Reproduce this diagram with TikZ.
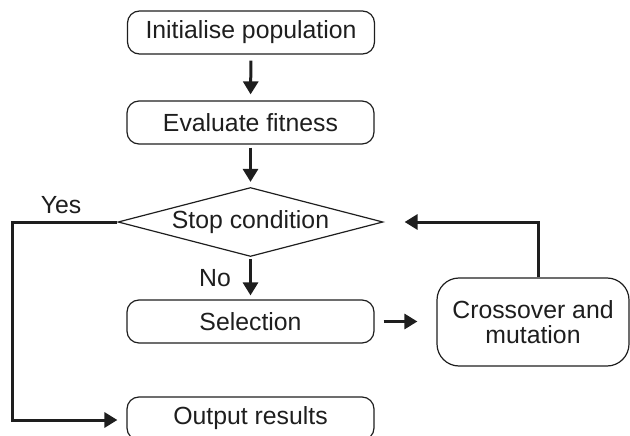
\documentclass[tikz,border=0pt]{standalone}
\usepackage{fontspec}
\setmainfont{Liberation Sans}
\usetikzlibrary{shapes.geometric,arrows.meta}
\definecolor{ink}{HTML}{1E1E1E}
\begin{document}
\begin{tikzpicture}[x=1pt,y=-1pt,
  font=\fontsize{24.8}{26}\selectfont,
  box/.style={draw=ink,line width=1.2pt,rounded corners=12pt,minimum width=247pt,minimum height=43pt,inner sep=0pt,text=ink},
  bigbox/.style={draw=ink,line width=1.2pt,rounded corners=22pt,minimum width=192pt,minimum height=88pt,inner sep=0pt,align=center,text=ink},
  decision/.style={draw=ink,line width=1.2pt,diamond,shape aspect=3.84,minimum width=265pt,minimum height=69pt,inner sep=0pt,text=ink},
  arr/.style={draw=ink,line width=3pt,-{Triangle[width=15pt,length=13pt]}},
  lbl/.style={text=ink,inner sep=0pt}]
\useasboundingbox (0,0) rectangle (630,436);
\node[box] (init) at (251,32.5) {Initialise population};
\node[box] (eval) at (250.5,122.5) {Evaluate fitness};
\node[decision] (stop) at (250.5,222) {Stop condition};
\node[box] (sel) at (250.5,321.5) {Selection};
\node[box] (out) at (250.5,418.5) {Output results};
\node[bigbox] (cross) at (533,322) {Crossover and\\[-1pt]mutation};
\coordinate (yx) at (12,0);
\coordinate (fb) at (538,0);
\node[lbl] (yes) at (61,205) {Yes};
\node[lbl] (no) at (215,278) {No};
\draw[arr,shorten <=6pt,shorten >=6pt] (init.south) -- (eval.north);
\draw[arr,shorten <=3pt,shorten >=5pt] (eval.south) -- (stop.north);
\draw[arr,shorten <=2pt,shorten >=4pt] (stop.south) -- (sel.north);
\draw[arr,shorten <=9pt,shorten >=19pt] (sel.east) -- (sel.east -| cross.west);
\draw[arr,-{Triangle[width=15pt,length=13pt]},shorten >=21pt] (cross.north -| fb) |- (stop.east);
\draw[arr,shorten >=9pt] (stop.west) -- (stop.west -| yx) |- ([yshift=-1.5pt]out.west);
\end{tikzpicture}
\end{document}
